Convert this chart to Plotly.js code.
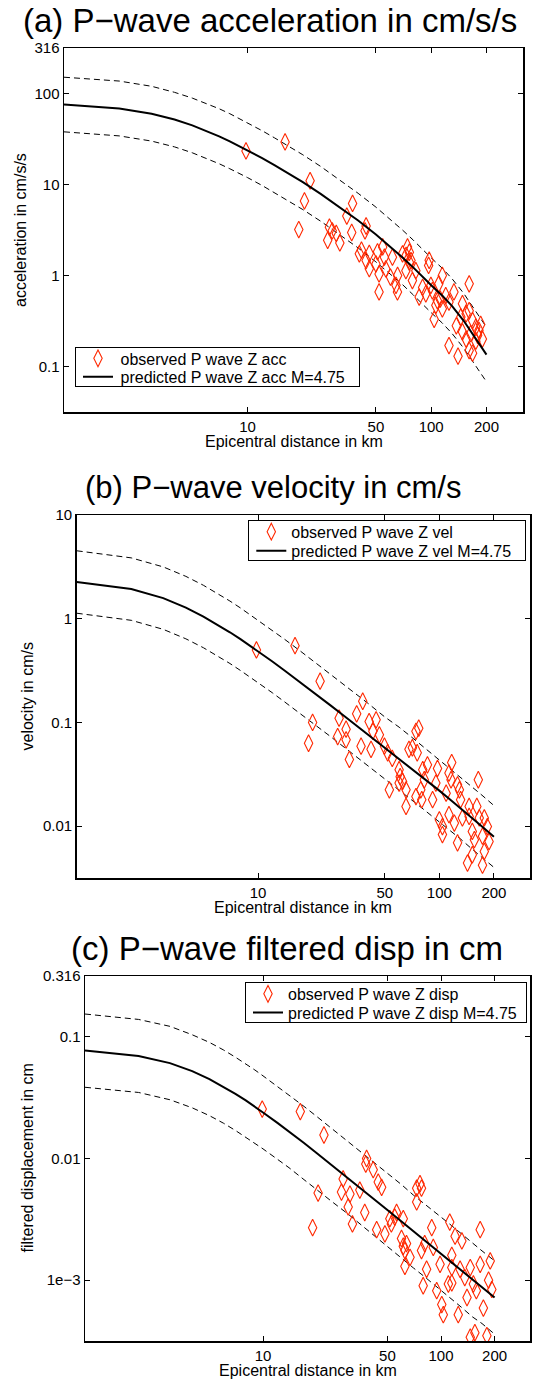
<!DOCTYPE html>
<html><head><meta charset="utf-8">
<script src="https://cdn.plot.ly/plotly-3.0.1.min.js"></script>
<style>html,body{margin:0;padding:0;background:#fff;}#chart{width:537px;height:1383px;}</style>
</head><body><div id="chart"></div>
<script>
// ---- data ----
const curveDist = [1, 2, 3, 4, 5, 6, 7, 8, 9, 10, 12, 14, 17, 20, 25, 30, 35, 40, 50, 60, 70, 80, 90, 100, 115, 130, 150, 170, 200];

const accPred  = [75.7, 68.4, 59.9, 51.7, 44.6, 38.7, 33.8, 29.8, 26.5, 23.8, 19.5, 16.3, 12.9, 10.6, 7.9, 6.12, 4.91, 4.02, 2.82, 2.07, 1.57, 1.22, 0.96, 0.78, 0.6, 0.46, 0.32, 0.22, 0.135];
const accUpper = [151, 137, 120, 103, 89, 77, 68, 60, 53, 47.6, 39, 32.6, 25.8, 21.2, 15.8, 12.2, 9.8, 8.0, 5.64, 4.14, 3.14, 2.44, 1.92, 1.56, 1.2, 0.92, 0.64, 0.44, 0.27];
const accLower = [37.9, 34.2, 30, 25.9, 22.3, 19.4, 16.9, 14.9, 13.3, 11.9, 9.75, 8.15, 6.45, 5.3, 3.95, 3.06, 2.46, 2.01, 1.41, 1.04, 0.79, 0.61, 0.48, 0.39, 0.3, 0.23, 0.16, 0.11, 0.068];
const accDist = [9.8, 16, 21.9, 20.4, 19, 37.3, 34.7, 27.9, 28.9, 30.4, 27.3, 31.8, 36.9, 44.2, 43.6, 41.7, 46, 51, 54.4, 74.3, 76, 97.5,
  40.6, 44.2, 50, 52, 52, 56.6, 60, 64.3, 65.5, 61.5, 73, 76, 82.5, 79, 96.8, 89.8, 101.5, 103.8, 115, 110, 112, 106, 120, 133, 125,
  148, 161, 155, 168, 175, 182, 190, 125, 140, 155, 168, 148, 175, 137, 186, 161, 93.5, 86, 115,
  46, 55.6, 69.8, 72.8, 77.6, 65.6, 99.6, 108, 145, 164, 179, 161];
const accObs = [23.4, 29.4, 11, 6.6, 3.2, 6.2, 4.5, 3.4, 3.1, 2.9, 2.44, 2.28, 2.97, 3.5, 3.1, 1.9, 1.75, 1.82, 2.06, 2.06, 1.8, 1.47,
  1.73, 1.46, 1.34, 1.04, 0.66, 1.18, 0.96, 0.78, 0.66, 1.59, 1.66, 1.4, 1.13, 0.88, 1.29, 0.74, 0.68, 0.33, 1.0, 0.81, 0.55, 0.47, 0.6, 0.66, 0.51,
  0.49, 0.81, 0.38, 0.32, 0.27, 0.25, 0.2, 0.17, 0.13, 0.2, 0.14, 0.24, 0.19, 0.28, 0.29, 0.41, 0.63, 0.58, 0.43,
  1.19, 1.59, 1.73, 1.13, 1.46, 1.0, 0.78, 0.53, 0.35, 0.23, 0.22, 0.15];

const velPred  = [2.26, 1.93, 1.58, 1.28, 1.05, 0.875, 0.74, 0.635, 0.552, 0.486, 0.387, 0.317, 0.246, 0.198, 0.147, 0.1146, 0.0929, 0.0773, 0.0566, 0.045, 0.0363, 0.030, 0.0254, 0.022, 0.018, 0.0151, 0.0122, 0.0101, 0.0079];
const velUpper = [4.52, 3.86, 3.16, 2.56, 2.1, 1.75, 1.48, 1.27, 1.1, 0.97, 0.774, 0.634, 0.492, 0.396, 0.294, 0.229, 0.186, 0.155, 0.113, 0.09, 0.0726, 0.06, 0.0508, 0.044, 0.036, 0.0302, 0.0244, 0.0202, 0.0158];
const velLower = [1.13, 0.965, 0.79, 0.64, 0.525, 0.437, 0.37, 0.317, 0.276, 0.243, 0.193, 0.158, 0.123, 0.099, 0.0735, 0.0573, 0.0465, 0.0387, 0.0283, 0.0225, 0.0182, 0.015, 0.0127, 0.011, 0.009, 0.0076, 0.0061, 0.0051, 0.004];
const velDist = [9.8, 16, 22, 37.8, 20, 19, 28, 35, 30.6, 27.5, 30.6, 31.9, 37, 41, 44.8, 43, 42, 46.7, 49.8, 51.9, 53, 55, 60, 60.8, 62.7, 60,
  65.5, 65.5, 68, 74.3, 77, 71, 75.5, 74.3, 79, 81, 82.6, 80, 86, 91.8, 97.7, 100, 104, 113, 117, 109, 113, 121, 126, 129, 116, 131, 146, 146,
  152, 143, 152, 173, 164, 161, 166, 177, 184, 188, 177, 173, 156, 134, 126, 104, 95.7];
const velObs = [0.5, 0.55, 0.25, 0.16, 0.1, 0.063, 0.11, 0.121, 0.086, 0.073, 0.068, 0.044, 0.059, 0.102, 0.106, 0.082, 0.055, 0.076, 0.059, 0.051, 0.0224, 0.045, 0.035, 0.03, 0.027, 0.026,
  0.0224, 0.0155, 0.055, 0.082, 0.088, 0.057, 0.051, 0.0193, 0.0224, 0.035, 0.028, 0.018, 0.039, 0.018, 0.036, 0.0115, 0.0083, 0.0325, 0.041, 0.0208, 0.0129, 0.0107, 0.0069, 0.0224, 0.028, 0.018, 0.0155, 0.0124,
  0.0089, 0.0044, 0.0053, 0.0042, 0.028, 0.0155, 0.012, 0.012, 0.0099, 0.0071, 0.0057, 0.008, 0.0074, 0.012, 0.025, 0.0099, 0.026];

const dispPred  = [0.0771, 0.0697, 0.0608, 0.0522, 0.045, 0.0389, 0.034, 0.03, 0.0267, 0.0239, 0.0197, 0.0167, 0.0134, 0.0111, 0.00857, 0.00692, 0.00577, 0.00492, 0.00378, 0.00303, 0.00252, 0.00215, 0.00187, 0.00164, 0.00139, 0.0012, 0.00101, 0.00087, 0.00072];
const dispUpper = [0.154, 0.139, 0.122, 0.104, 0.09, 0.078, 0.068, 0.06, 0.0534, 0.0478, 0.0394, 0.0334, 0.0268, 0.0222, 0.0171, 0.0138, 0.0115, 0.0098, 0.0076, 0.0061, 0.005, 0.0043, 0.0037, 0.0033, 0.0028, 0.0024, 0.002, 0.00174, 0.00144];
const dispLower = [0.0385, 0.0349, 0.0304, 0.0261, 0.0225, 0.0195, 0.017, 0.015, 0.0134, 0.012, 0.0099, 0.0084, 0.0067, 0.0056, 0.0043, 0.0035, 0.0029, 0.00246, 0.00189, 0.00152, 0.00126, 0.00108, 0.00094, 0.00082, 0.0007, 0.0006, 0.0005, 0.00044, 0.00036];
const dispDist = [9.9, 16.2, 22, 38.2, 19, 20.4, 28.2, 27.6, 30.8, 30.1, 31.8, 35, 37.3, 37.8, 41.6, 44.4, 46.4, 43.5, 48.4, 51.6, 52.6, 55, 56.3,
  61.4, 60, 61.4, 62.7, 64, 62.7, 67, 73, 76.2, 77.7, 73, 77.7, 83, 79.4, 81, 88.7, 90.5, 94.6, 101, 103, 98.8, 110, 115, 112, 120, 115, 125, 131,
  140, 146, 155, 152, 166, 166, 173, 181, 185, 189, 193, 146, 136, 158, 128, 115];
const dispObs = [0.0255, 0.0243, 0.0156, 0.01, 0.0027, 0.0052, 0.0068, 0.0053, 0.0051, 0.004, 0.0029, 0.0055, 0.0036, 0.009, 0.0081, 0.0064, 0.0058, 0.0026, 0.0024, 0.0032, 0.0029, 0.0033, 0.0036,
  0.0032, 0.0022, 0.0019, 0.00175, 0.002, 0.0013, 0.00154, 0.0057, 0.0062, 0.0057, 0.0044, 0.00175, 0.00123, 0.0009, 0.002, 0.0027, 0.00186, 0.00082, 0.00063, 0.00052, 0.00135, 0.00093, 0.00095, 0.003, 0.0023, 0.0016, 0.00052, 0.0021,
  0.00072, 0.00034, 0.00037, 0.00093, 0.0026, 0.00135, 0.00059, 0.00035, 0.001, 0.00144, 0.00084, 0.00127, 0.00105, 0.00082, 0.00123, 0.00127];

const xTickVals = [10, 50, 100, 200];
const xTickText = ['10', '50', '100', '200'];
const accTickVals = [0.1, 1, 10, 100, 316];
const accTickText = ['0.1', '1', '10', '100', '316'];
const velTickVals = [0.01, 0.1, 1, 10];
const velTickText = ['0.01', '0.1', '1', '10'];
const dispTickVals = [0.001, 0.01, 0.1, 0.316];
const dispTickText = ['1e\u22123', '0.01', '0.1', '0.316'];

// ---- layout helpers ----
const W = 537, H = 1383;
const px = v => v / W;
const py = v => 1 - v / H;
const FONT = 'Liberation Sans, Arial, Helvetica, sans-serif';
const RED = 'rgb(255,40,0)';

function panelTraces(n, xs, obs, pred, up, lo, obsName, predName, leg) {
  const xa = n === 1 ? 'x' : 'x' + n, ya = n === 1 ? 'y' : 'y' + n;
  return [
    {x: curveDist, y: up, xaxis: xa, yaxis: ya, mode: 'lines', showlegend: false, hoverinfo: 'skip',
     line: {color: 'black', width: 1, dash: '6px,4px'}},
    {x: curveDist, y: lo, xaxis: xa, yaxis: ya, mode: 'lines', showlegend: false, hoverinfo: 'skip',
     line: {color: 'black', width: 1, dash: '6px,4px'}},
    {x: xs, y: obs, xaxis: xa, yaxis: ya, mode: 'markers', name: obsName, legend: leg,
     marker: {symbol: 'diamond-tall-open', size: 12, color: RED, line: {color: RED, width: 1.1}}},
    {x: curveDist, y: pred, xaxis: xa, yaxis: ya, mode: 'lines', name: predName, legend: leg,
     line: {color: 'black', width: 2}}
  ];
}

const traces = [].concat(
  panelTraces(1, accDist, accObs, accPred, accUpper, accLower, 'observed P wave Z acc', 'predicted P wave Z acc M=4.75', 'legend'),
  panelTraces(2, velDist, velObs, velPred, velUpper, velLower, 'observed P wave Z vel', 'predicted P wave Z vel M=4.75', 'legend2'),
  panelTraces(3, dispDist, dispObs, dispPred, dispUpper, dispLower, 'observed P wave Z disp', 'predicted P wave Z disp M=4.75', 'legend3')
);

function xAxis(l, r, anchor) {
  return {type: 'log', range: [0, 2.5], domain: [px(l), px(r)], anchor: anchor,
    tickvals: xTickVals, ticktext: xTickText, ticks: 'inside', ticklen: 5, tickwidth: 1, tickcolor: 'black',
    showline: true, linecolor: 'black', linewidth: 1.5, mirror: 'ticks', showgrid: false, zeroline: false,
    tickfont: {family: FONT, size: 15, color: 'black'}, fixedrange: true};
}
function yAxis(t, b, range, tv, tt, anchor) {
  return {type: 'log', range: range, domain: [py(b), py(t)], anchor: anchor,
    tickvals: tv, ticktext: tt, ticks: 'inside', ticklen: 5, tickwidth: 1, tickcolor: 'black',
    showline: true, linecolor: 'black', linewidth: 1.5, mirror: 'ticks', showgrid: false, zeroline: false,
    tickfont: {family: FONT, size: 15, color: 'black'}, fixedrange: true};
}
function legendAt(l, t) {
  return {x: px(l), y: py(t), xanchor: 'left', yanchor: 'top', bgcolor: 'white', bordercolor: 'black', borderwidth: 1,
    font: {family: FONT, size: 16, color: 'black'}, tracegroupgap: 0};
}
function ann(text, x, y, size, angle) {
  return {text: text, x: px(x), y: py(y), xref: 'paper', yref: 'paper', showarrow: false,
    xanchor: 'center', yanchor: 'middle', textangle: angle || 0, font: {family: FONT, size: size, color: 'black'}};
}

const layout = {
  width: W, height: H, margin: {l: 0, r: 0, t: 0, b: 0}, paper_bgcolor: 'white', plot_bgcolor: 'white',
  showlegend: true,
  xaxis: xAxis(64, 523, 'y'),
  yaxis: yAxis(48, 412, [-1.5, 2.5], accTickVals, accTickText, 'x'),
  xaxis2: xAxis(76.7, 530, 'y2'),
  yaxis2: yAxis(515, 878, [-2.5, 1], velTickVals, velTickText, 'x2'),
  xaxis3: xAxis(85, 530, 'y3'),
  yaxis3: yAxis(976, 1341, [-3.5, -0.5], dispTickVals, dispTickText, 'x3'),
  legend: legendAt(75, 346.7),
  legend2: legendAt(248.3, 520),
  legend3: legendAt(245, 982.3),
  annotations: [
    ann('(a) P\u2212wave acceleration in cm/s/s', 270, 20, 33),
    ann('(b) P\u2212wave velocity in cm/s', 273, 487, 31),
    ann('(c) P\u2212wave filtered disp in cm', 287, 948, 33),
    ann('Epicentral distance in km', 293.5, 441.7, 16),
    ann('Epicentral distance in km', 303.4, 908, 16),
    ann('Epicentral distance in km', 307.5, 1370, 16),
    ann('acceleration in cm/s/s', 20, 230, 16, -90),
    ann('velocity in cm/s', 27, 696.5, 16, -90),
    ann('filtered displacement in cm', 27, 1158.5, 16, -90)
  ]
};

// compact legend boxes (MATLAB style row spacing)
const legendBox = {
  legend:  {w: 285, h: 40.6, r0: 11.6, gap: 18.4},
  legend2: {w: 277.7, h: 41, r0: 11.7, gap: 19},
  legend3: {w: 281.7, h: 40.4, r0: 11.5, gap: 18.6}
};

const gd = document.getElementById('chart');
Plotly.newPlot(gd, traces, layout, {displayModeBar: false, staticPlot: true}).then(function () {
  try {
    Object.keys(legendBox).forEach(function (id) {
      const s = legendBox[id];
      const lg = gd.querySelector('g.infolayer > g.' + id);
      if (!lg) return;
      const bg = lg.querySelector('rect.bg');
      if (bg) { bg.setAttribute('width', s.w - 1); bg.setAttribute('height', s.h - 1); }
      lg.querySelectorAll('g.traces').forEach(function (it, i) {
        it.setAttribute('transform', 'translate(3,' + (s.r0 + i * s.gap) + ')');
        const t = it.querySelector('text.legendtext');
        if (t) {
          t.setAttribute('x', 42.5);
          t.querySelectorAll('tspan').forEach(function (ts) { if (ts.hasAttribute('x')) ts.setAttribute('x', 42.5); });
        }
      });
    });
  } catch (e) { console.log(e); }
});
</script>
</body></html>
